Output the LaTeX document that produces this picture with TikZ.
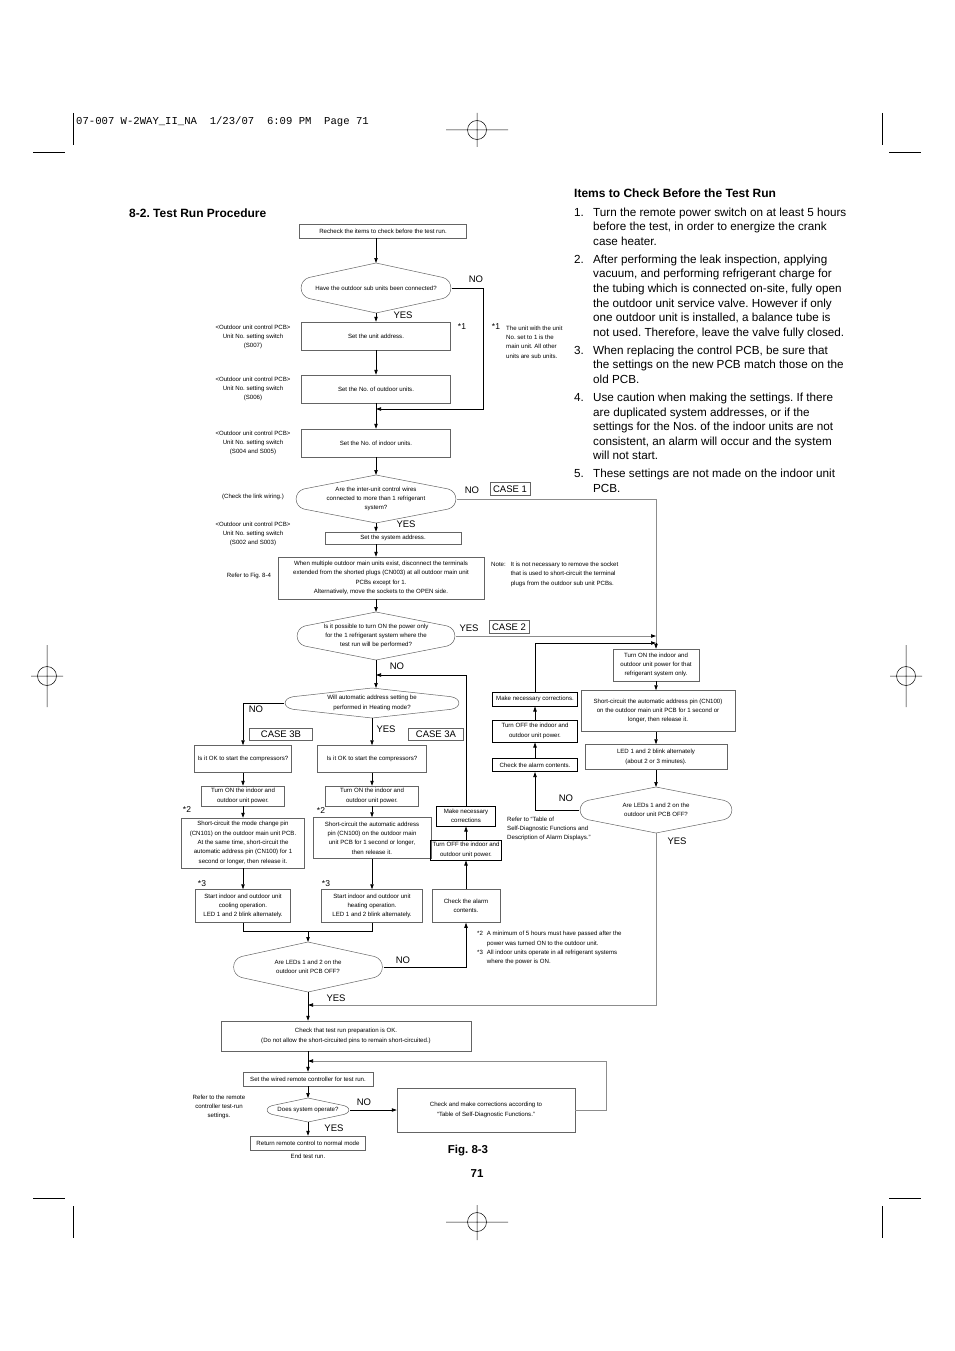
\documentclass[tikz,border=0pt]{standalone}
\usepackage{fontspec}
\setmainfont{Liberation Sans}
\setmonofont{Liberation Mono}
\frenchspacing
\definecolor{boxgray}{RGB}{100, 100, 100}
\definecolor{linegray}{RGB}{140, 140, 140}
\usepackage{tikz}
\usetikzlibrary{arrows.meta, positioning, calc}
\newcommand{\chartfont}{\fontsize{6.1}{9.4}\selectfont}
\newcommand{\lblfont}{\fontsize{9.5}{11}\selectfont}
\newcommand{\starfont}{\fontsize{8.5}{10}\selectfont}
\newcommand{\bodyfont}{\fontsize{11.7}{14.6}\selectfont}
\newcommand{\headfont}{\bfseries\fontsize{12}{14}\selectfont}
\newcommand{\decisionoutline}[1]{%
  \draw[dline] (#1.north)
    -- ($(#1.west)!0.42!(#1.north west)+(9pt,0)$)
    .. controls ($(#1.west)!0.3!(#1.north west)+(-1.5pt,0)$) and ($(#1.west)!0.3!(#1.south west)+(-1.5pt,0)$)
    .. ($(#1.west)!0.42!(#1.south west)+(9pt,0)$)
    -- (#1.south)
    -- ($(#1.east)!0.42!(#1.south east)+(-9pt,0)$)
    .. controls ($(#1.east)!0.3!(#1.south east)+(1.5pt,0)$) and ($(#1.east)!0.3!(#1.north east)+(1.5pt,0)$)
    .. ($(#1.east)!0.42!(#1.north east)+(-9pt,0)$)
    -- cycle;}

\begin{document}
\begin{tikzpicture}[x=1pt, y=-1pt,
  box/.style={draw=boxgray, line width=0.5pt, inner sep=0pt, align=center, font=\chartfont},
  dbox/.style={box, draw=black, line width=1pt},
  decision/.style={draw=none, inner sep=0pt, outer sep=0pt, align=center, font=\chartfont},
  dline/.style={draw=boxgray, line width=0.5pt},
  note/.style={align=center, font=\chartfont, inner sep=0pt},
  lbl/.style={font=\lblfont, inner sep=0pt},
  star/.style={font=\starfont, inner sep=0pt},
  casebox/.style={draw=boxgray, line width=0.5pt, font=\lblfont, inner sep=0pt},
  arr/.style={-{Triangle[length=5pt, width=3.4pt, color=black]}, line width=0.7pt},
  garr/.style={arr, draw=linegray},
  gline/.style={draw=linegray, line width=0.7pt}]
  \useasboundingbox (0,0) rectangle (954,1351);

  % printer marks
  \draw[line width=0.5pt] (73,113) -- (73,145) (33,152) -- (65,152) (882,113) -- (882,145) (889,152) -- (921,152)
    (73,1206) -- (73,1238) (33,1198) -- (65,1198) (882,1206) -- (882,1238) (889,1198) -- (921,1198);
  \draw[line width=0.5pt] (477,130) circle[radius=9.5pt] (446,130) -- (508,130) (477,113) -- (477,147);
  \draw[line width=0.5pt] (477,1222) circle[radius=9.5pt] (446,1222) -- (508,1222) (477,1205) -- (477,1240);
  \draw[line width=0.5pt] (47,676) circle[radius=9.5pt] (31,676) -- (63,676) (47,645) -- (47,707);
  \draw[line width=0.5pt] (906,676) circle[radius=9.5pt] (890,676) -- (922,676) (906,645) -- (906,707);
  \node[font=\ttfamily\fontsize{10.6}{12}\selectfont, anchor=west, inner sep=0pt] (hdr) at (76,122) {07-007 W-2WAY\_II\_NA~~1/23/07~~6:09 PM~~Page 71};

  \node[font=\headfont, anchor=west, inner sep=0pt] (title) at (129,213) {8-2. Test Run Procedure};
  \node[font=\headfont, anchor=west, inner sep=0pt] (items) at (574,193) {Items to Check Before the Test Run};
  \node[font=\bodyfont, anchor=base west, inner sep=0pt] (list) at (574,216) {\begin{tabular}[t]{@{}l@{\hspace{9.2pt}}l@{}}
    1. & Turn the remote power switch on at least 5 hours\\
       & before the test, in order to energize the crank\\
       & case heater.\\[3.4pt]
    2. & After performing the leak inspection, applying\\
       & vacuum, and performing refrigerant charge for\\
       & the tubing which is connected on-site, fully open\\
       & the outdoor unit service valve. However if only\\
       & one outdoor unit is installed, a balance tube is\\
       & not used. Therefore, leave the valve fully closed.\\[3.4pt]
    3. & When replacing the control PCB, be sure that\\
       & the settings on the new PCB match those on the\\
       & old PCB.\\[3.4pt]
    4. & Use caution when making the settings. If there\\
       & are duplicated system addresses, or if the\\
       & settings for the Nos. of the indoor units are not\\
       & consistent, an alarm will occur and the system\\
       & will not start.\\[3.4pt]
    5. & These settings are not made on the indoor unit\\
       & PCB.
  \end{tabular}};

  % main column
  \node[box, minimum width=167pt, minimum height=14pt] (recheck) at (383,231) {Recheck the items to check before the test run.};
  \node[decision, minimum width=152pt, minimum height=50pt] (qsub) at (376,288) {Have the outdoor sub units been connected?};
  \node[box, minimum width=149pt, minimum height=28pt] (addr) at (376,336) {Set the unit address.};
  \node[box, minimum width=149pt, minimum height=28pt] (nout) at (376,389) {Set the No. of outdoor units.};
  \node[box, minimum width=149pt, minimum height=28pt] (nin) at (376,443) {Set the No. of indoor units.};
  \node[decision, minimum width=162pt, minimum height=48pt] (qwire) at (376,499) {Are the inter-unit control wires\\connected to more than 1 refrigerant\\system?};
  \node[box, minimum width=136pt, minimum height=12pt] (sysaddr) at (393,538) {Set the system address.};
  \node[box, minimum width=206pt, minimum height=42pt] (multi) at (381,578) {When multiple outdoor main units exist, disconnect the terminals\\extended from the shorted plugs (CN003) at all outdoor main unit\\PCBs except for 1.\\Alternatively, move the sockets to the OPEN side.};
  \node[decision, minimum width=160pt, minimum height=48pt] (qpower) at (376,636) {Is it possible to turn ON the power only\\for the 1 refrigerant system where the\\test run will be performed?};
  \node[decision, minimum width=176pt, minimum height=30pt] (qheat) at (372,703) {Will automatic address setting be\\performed in Heating mode?};

  % side notes
  \node[note] (pcb1) at (253,337) {<Outdoor unit control PCB>\\Unit No. setting switch\\(S007)};
  \node[note] (pcb2) at (253,389) {<Outdoor unit control PCB>\\Unit No. setting switch\\(S006)};
  \node[note] (pcb3) at (253,443) {<Outdoor unit control PCB>\\Unit No. setting switch\\(S004 and S005)};
  \node[note] (link) at (253,497) {(Check the link wiring.)};
  \node[note] (pcb4) at (253,534) {<Outdoor unit control PCB>\\Unit No. setting switch\\(S002 and S003)};
  \node[note] (fig84) at (249,576) {Refer to Fig. 8-4};
  \node[star] (st1a) at (462,327) {*1};
  \node[star] (st1b) at (496,327) {*1};
  \node[note, align=left, anchor=west] (unitnote) at (506,342) {The unit with the unit\\No. set to 1 is the\\main unit. All other\\units are sub units.};
  \node[note, anchor=west] (socket) at (491,574) {\begin{tabular}{@{}l@{\hspace{5pt}}l@{}}Note: & It is not necessary to remove the socket\\ & that is used to short-circuit the terminal\\ & plugs from the outdoor sub unit PCBs.\end{tabular}};

  % case 3B
  \node[box, minimum width=97pt, minimum height=27pt] (okb) at (243,759) {Is it OK to start the compressors?};
  \node[box, minimum width=83pt, minimum height=20pt] (tonb) at (243,796) {Turn ON the indoor and\\outdoor unit power.};
  \node[box, minimum width=123pt, minimum height=50pt] (scb) at (243,843) {Short-circuit the mode change pin\\(CN101) on the outdoor main unit PCB.\\At the same time, short-circuit the\\automatic address pin (CN100) for 1\\second or longer, then release it.};
  \node[box, minimum width=95pt, minimum height=33pt] (stb) at (243,906) {Start indoor and outdoor unit\\cooling operation.\\LED 1 and 2 blink alternately.};
  % case 3A
  \node[box, minimum width=109pt, minimum height=27pt] (oka) at (372,759) {Is it OK to start the compressors?};
  \node[box, minimum width=93pt, minimum height=20pt] (tona) at (372,796) {Turn ON the indoor and\\outdoor unit power.};
  \node[box, minimum width=118pt, minimum height=41pt] (sca) at (372,838) {Short-circuit the automatic address\\pin (CN100) on the outdoor main\\unit PCB for 1 second or longer,\\then release it.};
  \node[box, minimum width=101pt, minimum height=33pt] (sta) at (372,906) {Start indoor and outdoor unit\\heating operation.\\LED 1 and 2 blink alternately.};
  \node[star] (s2b) at (187,810) {*2};
  \node[star] (s2a) at (321,811) {*2};
  \node[star] (s3b) at (202,884) {*3};
  \node[star] (s3a) at (326,884) {*3};

  \node[dbox, minimum width=59pt, minimum height=20pt] (mk1) at (466,816) {Make necessary\\corrections};
  \node[dbox, minimum width=71pt, minimum height=20pt] (off1) at (466,850) {Turn OFF the indoor and\\outdoor unit power.};
  \node[box, minimum width=68pt, minimum height=33pt] (chk1) at (466,906) {Check the alarm\\contents.};
  \node[decision, minimum width=151pt, minimum height=50pt] (qled) at (308,967) {Are LEDs 1 and 2 on the\\outdoor unit PCB OFF?};

  % case 1 / case 2
  \node[box, minimum width=86pt, minimum height=32pt] (ton) at (656,665) {Turn ON the indoor and\\outdoor unit power for that\\refrigerant system only.};
  \node[box, minimum width=154pt, minimum height=41pt] (sc2) at (658,711) {Short-circuit the automatic address pin (CN100)\\on the outdoor main unit PCB for 1 second or\\longer, then release it.};
  \node[box, minimum width=142pt, minimum height=25pt] (blink) at (656,757) {LED 1 and 2 blink alternately\\(about 2 or 3 minutes).};
  \node[decision, minimum width=154pt, minimum height=46pt] (qled2) at (656,810) {Are LEDs 1 and 2 on the\\outdoor unit PCB OFF?};
  \node[dbox, minimum width=85pt, minimum height=14pt] (mk2) at (535,699) {Make necessary corrections.};
  \node[dbox, minimum width=85pt, minimum height=22pt] (off2) at (535,731) {Turn OFF the indoor and\\outdoor unit power.};
  \node[dbox, minimum width=85pt, minimum height=13pt] (chk2) at (535,765) {Check the alarm contents.};
  \node[note, align=left, anchor=west] (refalarm) at (507,829) {Refer to ``Table of\\Self-Diagnostic Functions and\\Description of Alarm Displays.''};
  \node[note, anchor=west] (foot) at (477,948) {\begin{tabular}{@{}l@{\hspace{4pt}}l@{}}{*}2 & A minimum of 5 hours must have passed after the\\ & power was turned ON to the outdoor unit.\\ {*}3 & All indoor units operate in all refrigerant systems\\ & where the power is ON.\end{tabular}};

  % final part
  \node[box, minimum width=250pt, minimum height=30pt] (prep) at (346,1036) {Check that test run preparation is OK.\\(Do not allow the short-circuited pins to remain short-circuited.)};
  \node[box, minimum width=130pt, minimum height=14pt] (wired) at (308,1079) {Set the wired remote controller for test run.};
  \node[decision, minimum width=84pt, minimum height=24pt] (qrun) at (308,1110) {Does system operate?};
  \node[box, minimum width=178pt, minimum height=44pt] (fix) at (486,1110) {Check and make corrections according to\\``Table of Self-Diagnostic Functions.''};
  \node[box, minimum width=115pt, minimum height=14pt] (ret) at (308,1143) {Return remote control to normal mode};
  \node[note] (endrun) at (308,1156) {End test run.};
  \node[note] (refremote) at (219,1107) {Refer to the remote\\controller test-run\\settings.};
  \node[font=\bfseries\fontsize{11.5}{13}\selectfont] (fig) at (468,1151) {Fig. 8-3};
  \node[font=\bfseries\fontsize{11.5}{13}\selectfont] (pg) at (477,1174) {71};

  \decisionoutline{qsub}
  \decisionoutline{qwire}
  \decisionoutline{qpower}
  \decisionoutline{qheat}
  \decisionoutline{qled}
  \decisionoutline{qled2}
  \decisionoutline{qrun}

  % connectors
  \coordinate (jn1) at (376,409);
  \coordinate (kn1) at (483,409);
  \coordinate (kc1) at (656,643);
  \coordinate (jn2) at (376,675);
  \coordinate (jm) at (308,931);
  \coordinate (jy) at (308,1005);
  \coordinate (jr) at (308,1061);
  \coordinate (kr) at (606,1061);
  \draw[arr] (recheck.south -| qsub.north) -- (qsub.north);
  \draw[arr] (qsub.south) -- (addr.north);
  \draw[arr] (addr.south) -- (nout.north);
  \draw[line width=0.7pt] (nout.south) -- (jn1);
  \draw[arr] (jn1) -- (nin.north);
  \draw[arr] (qsub.east) -| (kn1) -- (jn1);
  \draw[arr] (nin.south) -- (qwire.north);
  \draw[arr] (qwire.south) -- (qwire.south |- sysaddr.north);
  \draw[arr] (qwire.south |- sysaddr.south) -- (qwire.south |- multi.north);
  \draw[arr] (qwire.south |- multi.south) -- (qpower.north);
  \draw[gline] (qwire.east) -| (kc1);
  \draw[arr] (kc1) -- (ton.north);
  \draw[garr] (qpower.east) -- (qpower.east -| kc1);
  \draw[arr] (mk2.north) |- (kc1);
  \draw[line width=0.7pt] (qpower.south) -- (jn2);
  \draw[arr] (jn2) -- (jn2 |- qheat.north);
  \draw[arr] (mk1.north) |- (jn2);
  \draw[arr] (qheat.west) -| (okb.north);
  \draw[arr] (qheat.south) -- (oka.north);
  \draw[arr] (okb.south) -- (tonb.north);
  \draw[arr] (tonb.south) -- (scb.north);
  \draw[arr] (scb.south) -- (stb.north);
  \draw[arr] (oka.south) -- (tona.north);
  \draw[arr] (tona.south) -- (sca.north);
  \draw[arr] (sca.south) -- (sta.north);
  \draw[line width=0.7pt] (stb.south) |- (jm) -| (sta.south);
  \draw[arr] (jm) -- (qled.north);
  \draw[arr] (qled.east) -| (chk1.south);
  \draw[arr] (chk1.north) -- (off1.south);
  \draw[arr] (off1.north) -- (mk1.south);
  \draw[line width=0.7pt] (qled.south) -- (jy);
  \draw[arr] (jy) -- (jy |- prep.north);
  \draw[garr] (qled2.south) |- (jy);
  \draw[arr] (ton.south) -- (ton.south |- sc2.north);
  \draw[arr] (ton.south |- sc2.south) -- (ton.south |- blink.north);
  \draw[arr] (ton.south |- blink.south) -- (qled2.north);
  \draw[arr] (qled2.west) -| (chk2.south);
  \draw[arr] (chk2.north) -- (off2.south);
  \draw[arr] (off2.north) -- (mk2.south);
  \draw[line width=0.7pt] (jy |- prep.south) -- (jr);
  \draw[arr] (jr) -- (wired.north);
  \draw[garr] (fix.east) -| (kr) -- (jr);
  \draw[arr] (wired.south) -- (qrun.north);
  \draw[arr] (qrun.east) -- (fix.west);
  \draw[arr] (qrun.south) -- (ret.north);

  % branch labels
  \node[lbl] (no1) at (476,279) {NO};
  \node[lbl] (yes1) at (403,315) {YES};
  \node[lbl] (no2) at (472,490) {NO};
  \node[casebox, minimum width=40pt, minimum height=13pt] (case1) at (510,489) {CASE 1};
  \node[lbl] (yes2) at (406,524) {YES};
  \node[lbl] (yes3) at (469,628) {YES};
  \node[casebox, minimum width=40pt, minimum height=13pt] (case2) at (509,627) {CASE 2};
  \node[lbl] (no3) at (397,666) {NO};
  \node[lbl] (no4) at (256,709) {NO};
  \node[lbl] (yes4) at (386,729) {YES};
  \node[casebox, minimum width=63pt, minimum height=12pt] (case3b) at (281,734) {CASE 3B};
  \node[casebox, minimum width=55pt, minimum height=12pt] (case3a) at (436,734) {CASE 3A};
  \node[lbl] (no5) at (403,960) {NO};
  \node[lbl] (yes5) at (336,998) {YES};
  \node[lbl] (no6) at (566,798) {NO};
  \node[lbl] (yes6) at (677,841) {YES};
  \node[lbl] (no7) at (364,1102) {NO};
  \node[lbl] (yes7) at (334,1128) {YES};
\end{tikzpicture}
\end{document}
